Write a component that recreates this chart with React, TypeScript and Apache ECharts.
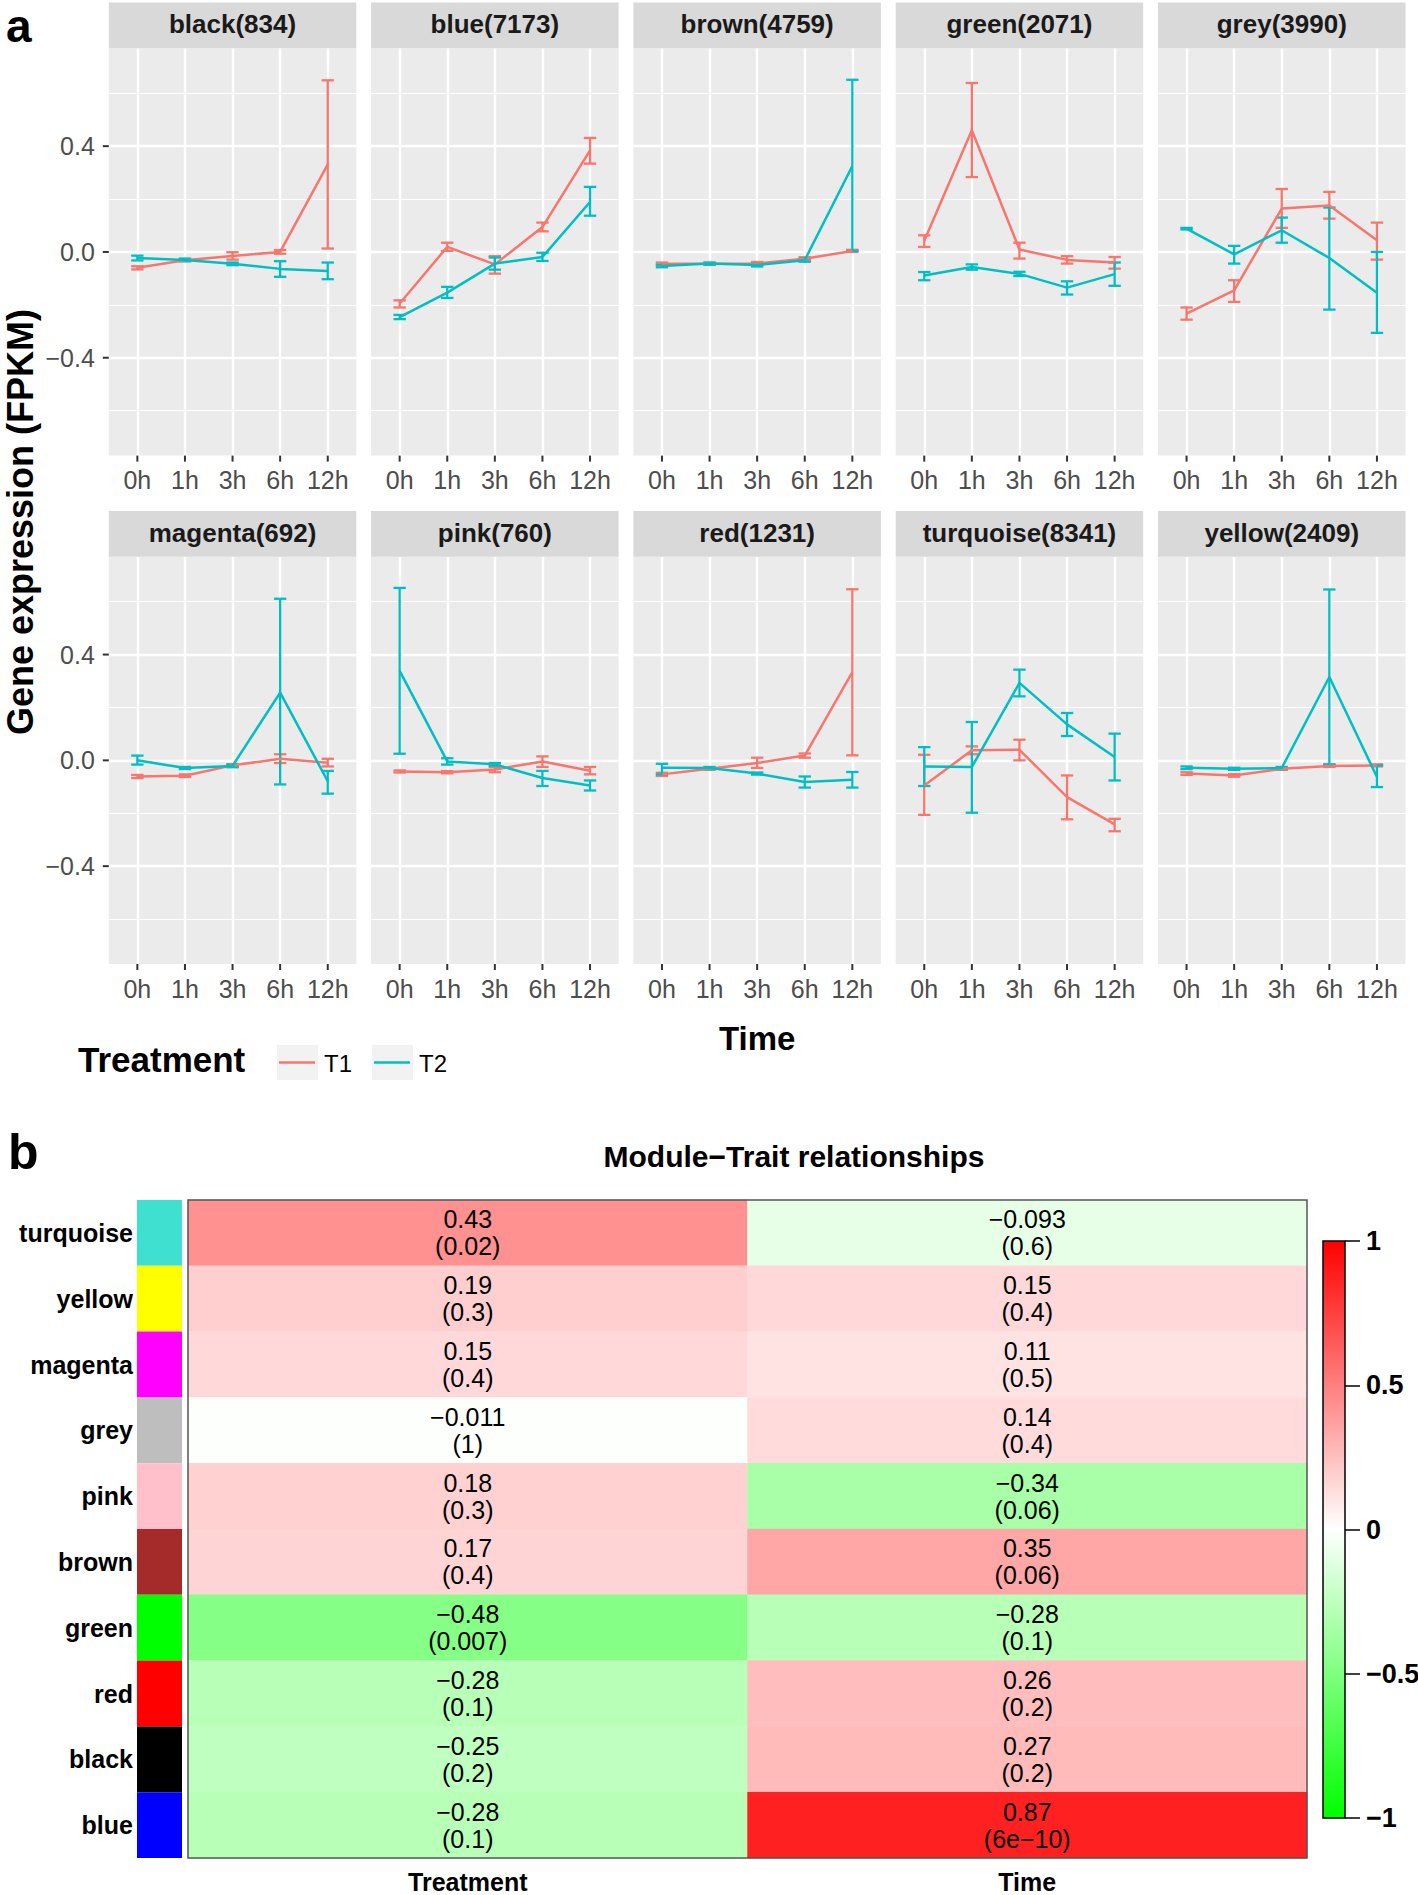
import React, { useEffect, useRef } from "react";
import * as echarts from "echarts";

// ---------------- DATA ----------------
const TIMES = ["0h", "1h", "3h", "6h", "12h"];
const MODULES = ["black", "blue", "brown", "green", "grey", "magenta", "pink", "red", "turquoise", "yellow"];
const GENE_COUNTS = [834, 7173, 4759, 2071, 3990, 692, 760, 1231, 8341, 2409];
const TREATMENTS = ["T1", "T2"];

// per module (order of MODULES), per time point
const T1_MEAN = [
  [-0.06, -0.031, -0.015, 0.0, 0.331],
  [-0.195, 0.019, -0.047, 0.094, 0.384],
  [-0.045, -0.045, -0.044, -0.026, 0.004],
  [0.042, 0.46, 0.009, -0.03, -0.04],
  [-0.233, -0.145, 0.164, 0.176, 0.044],
  [-0.061, -0.058, -0.019, 0.006, -0.009],
  [-0.042, -0.045, -0.035, -0.004, -0.039],
  [-0.053, -0.032, -0.01, 0.018, 0.334],
  [-0.095, 0.038, 0.04, -0.139, -0.242],
  [-0.05, -0.057, -0.032, -0.021, -0.019],
];
const T1_LOW = [
  [-0.066, -0.035, -0.029, -0.007, 0.013],
  [-0.21, 0.004, -0.082, 0.078, 0.334],
  [-0.05, -0.049, -0.05, -0.032, 0.0],
  [0.019, 0.283, -0.025, -0.044, -0.063],
  [-0.256, -0.189, 0.091, 0.126, -0.029],
  [-0.067, -0.063, -0.024, -0.01, -0.023],
  [-0.046, -0.049, -0.045, -0.025, -0.053],
  [-0.059, -0.036, -0.029, 0.01, 0.019],
  [-0.206, 0.023, 0.0, -0.223, -0.268],
  [-0.055, -0.062, -0.036, -0.025, -0.023],
];
const T1_HIGH = [
  [-0.054, -0.027, -0.001, 0.007, 0.649],
  [-0.183, 0.035, -0.016, 0.111, 0.431],
  [-0.04, -0.041, -0.038, -0.02, 0.008],
  [0.063, 0.639, 0.035, -0.016, -0.019],
  [-0.21, -0.107, 0.238, 0.227, 0.111],
  [-0.055, -0.053, -0.014, 0.023, 0.006],
  [-0.038, -0.041, -0.025, 0.015, -0.025],
  [-0.047, -0.028, 0.01, 0.026, 0.647],
  [0.021, 0.053, 0.078, -0.057, -0.221],
  [-0.045, -0.052, -0.028, -0.017, -0.015],
];
const T2_MEAN = [
  [-0.023, -0.03, -0.045, -0.064, -0.072],
  [-0.246, -0.154, -0.044, -0.019, 0.189],
  [-0.053, -0.044, -0.049, -0.031, 0.325],
  [-0.089, -0.057, -0.083, -0.135, -0.084],
  [0.088, -0.009, 0.082, -0.023, -0.154],
  [0.0, -0.029, -0.021, 0.256, -0.079],
  [0.338, -0.004, -0.015, -0.067, -0.095],
  [-0.028, -0.029, -0.05, -0.082, -0.073],
  [-0.023, -0.025, 0.293, 0.136, 0.013],
  [-0.028, -0.032, -0.029, 0.315, -0.063],
];
const T2_LOW = [
  [-0.032, -0.035, -0.05, -0.094, -0.103],
  [-0.254, -0.174, -0.067, -0.034, 0.137],
  [-0.058, -0.048, -0.055, -0.037, 0.004],
  [-0.107, -0.067, -0.091, -0.161, -0.128],
  [0.085, -0.044, 0.035, -0.218, -0.306],
  [-0.016, -0.033, -0.026, -0.091, -0.126],
  [0.025, -0.016, -0.02, -0.097, -0.114],
  [-0.053, -0.033, -0.054, -0.103, -0.103],
  [-0.097, -0.198, 0.242, 0.092, -0.076],
  [-0.033, -0.036, -0.033, -0.015, -0.101],
];
const T2_HIGH = [
  [-0.014, -0.025, -0.04, -0.035, -0.04],
  [-0.238, -0.132, -0.021, -0.003, 0.246],
  [-0.048, -0.04, -0.043, -0.025, 0.651],
  [-0.076, -0.047, -0.075, -0.111, -0.04],
  [0.091, 0.023, 0.13, 0.168, 0.0],
  [0.018, -0.025, -0.016, 0.611, -0.04],
  [0.652, 0.008, -0.01, -0.04, -0.076],
  [-0.013, -0.025, -0.046, -0.061, -0.044],
  [0.05, 0.145, 0.343, 0.179, 0.101],
  [-0.023, -0.028, -0.025, 0.646, -0.019],
];
const Y_TICKS = [-0.4, 0, 0.4];

// heatmap (module-trait relationships)
const HEAT_ROWS = ["turquoise", "yellow", "magenta", "grey", "pink", "brown", "green", "red", "black", "blue"];
const HEAT_ROW_COLORS = ["#40E0D0", "#FFFF00", "#FF00FF", "#BEBEBE", "#FFC0CB", "#A52A2A", "#00FF00", "#FF0000", "#000000", "#0000FF"];
const TRAITS = ["Treatment", "Time"];
const COR_TREATMENT = [0.43, 0.19, 0.15, -0.011, 0.18, 0.17, -0.48, -0.28, -0.25, -0.28];
const P_TREATMENT = [0.02, 0.3, 0.4, 1, 0.3, 0.4, 0.007, 0.1, 0.2, 0.1];
const COR_TIME = [-0.093, 0.15, 0.11, 0.14, -0.34, 0.35, -0.28, 0.26, 0.27, 0.87];
const P_TIME = [0.6, 0.4, 0.5, 0.4, 0.06, 0.06, 0.1, 0.2, 0.2, 6e-10];

// ---------------- STYLE / LAYOUT ----------------
const W = 1418;
const H = 1895;
const FONT = '"Liberation Sans", Arial, Helvetica, sans-serif';
const T1_COLOR = "#F8766D";
const T2_COLOR = "#00BFC4";
const PANEL_X0 = 108.8;
const PANEL_PITCH = 262.3;
const PANEL_W = 247.5;
const ROW_PANEL_TOP = [48.3, 556.7];
const PANEL_H = 407.3;
const STRIP_H = 45.8;
const Y_LIM = 0.77;
const Y_EXT = 0.8;
const X_MIN = -0.6;
const X_MAX = 4.6;
const CAP = 0.26;
const TICK_LEN = 6;

const HM_LEFT = 188;
const HM_TOP = 1200;
const HM_W = 1119;
const HM_H = 658;
const BAR_LEFT = 137;
const BAR_W = 45;
const CB_LEFT = 1323;
const CB_TOP = 1241;
const CB_W = 22;
const CB_H = 577;

const minus = (s: string) => s.replace("-", "\u2212");

function buildOption() {
  const grid: any[] = [];
  const xAxis: any[] = [];
  const yAxis: any[] = [];
  const series: any[] = [];
  const graphics: any[] = [];

  const pxu = PANEL_H / (2 * Y_LIM);
  const ext = (Y_EXT - Y_LIM) * pxu;

  MODULES.forEach((m, i) => {
    const r = Math.floor(i / 5);
    const c = i % 5;
    const left = PANEL_X0 + c * PANEL_PITCH;
    const top = ROW_PANEL_TOP[r];
    grid.push({
      left,
      top: top - ext,
      width: PANEL_W,
      height: 2 * Y_EXT * pxu,
      containLabel: false,
      outerBoundsMode: "none",
    });
    xAxis.push({
      type: "value",
      gridIndex: i,
      position: "bottom",
      min: X_MIN,
      max: X_MAX,
      offset: -ext,
      z: 1,
      axisLine: { show: false, onZero: false },
      axisTick: { show: false },
      axisLabel: {
        show: true,
        customValues: [0, 1, 2, 3, 4],
        formatter: (v: number) => (Number.isInteger(v) && TIMES[v] !== undefined ? TIMES[v] : ""),
        fontSize: 25,
        fontFamily: FONT,
        color: "#4D4D4D",
        margin: 12,
      },
      splitLine: { show: true, showMinLine: false, showMaxLine: false, lineStyle: { color: "#FFFFFF", width: 2.4 } },
    });
    yAxis.push({
      type: "value",
      gridIndex: i,
      position: "left",
      min: -Y_EXT,
      max: Y_EXT,
      interval: 0.4,
      z: 1,
      axisLine: { show: false, onZero: false },
      axisTick: { show: false },
      axisLabel: {
        show: c === 0,
        customValues: Y_TICKS,
        formatter: (v: number) => (Math.abs(v) > 0.5 ? "" : minus(v.toFixed(1)).replace("\u22120.0", "0.0")),
        fontSize: 25,
        fontFamily: FONT,
        color: "#4D4D4D",
        margin: 14,
      },
      splitLine: { show: true, showMinLine: false, showMaxLine: false, lineStyle: { color: "#FFFFFF", width: 2.4 } },
      minorTick: { show: false, splitNumber: 2 },
      minorSplitLine: { show: true, lineStyle: { color: "#FFFFFF", width: 1.2 } },
    });

    // panel background and strip
    graphics.push({
      type: "rect",
      silent: true,
      z: 0,
      shape: { x: left, y: top, width: PANEL_W, height: PANEL_H },
      style: { fill: "#EBEBEB" },
    });
    graphics.push({
      type: "rect",
      silent: true,
      z: 5,
      shape: { x: left, y: top - STRIP_H, width: PANEL_W, height: STRIP_H },
      style: { fill: "#D9D9D9" },
    });
    graphics.push({
      type: "text",
      silent: true,
      z: 6,
      x: left + PANEL_W / 2,
      y: top - STRIP_H / 2 - 1,
      style: {
        text: `${m}(${GENE_COUNTS[i]})`,
        fontSize: 26,
        fontWeight: "bold",
        fontFamily: FONT,
        fill: "#1A1A1A",
        align: "center",
        verticalAlign: "middle",
      },
    });

    const means = [T1_MEAN[i], T2_MEAN[i]];
    const lows = [T1_LOW[i], T2_LOW[i]];
    const highs = [T1_HIGH[i], T2_HIGH[i]];
    const colors = [T1_COLOR, T2_COLOR];
    TREATMENTS.forEach((t, k) => {
      series.push({
        type: "line",
        name: t,
        xAxisIndex: i,
        yAxisIndex: i,
        data: TIMES.map((_, j) => [j, means[k][j]]),
        showSymbol: false,
        symbol: "none",
        silent: true,
        z: 3,
        lineStyle: { color: colors[k], width: 2.5 },
        itemStyle: { color: colors[k] },
      });
    });
    TREATMENTS.forEach((t, k) => {
      const col = colors[k];
      series.push({
        type: "custom",
        name: t + " error",
        xAxisIndex: i,
        yAxisIndex: i,
        silent: true,
        z: 3,
        encode: { x: 0, y: [1, 2] },
        data: TIMES.map((_, j) => [j, lows[k][j], highs[k][j]]),
        renderItem: (params: any, api: any) => {
          const x = api.value(0);
          const lo = api.coord([x, api.value(1)]);
          const hi = api.coord([x, api.value(2)]);
          const half = api.size([CAP, 0])[0] / 2;
          const st = { stroke: col, lineWidth: 2.3 };
          return {
            type: "group",
            children: [
              { type: "line", shape: { x1: lo[0], y1: lo[1], x2: hi[0], y2: hi[1] }, style: st },
              { type: "line", shape: { x1: lo[0] - half, y1: lo[1], x2: lo[0] + half, y2: lo[1] }, style: st },
              { type: "line", shape: { x1: hi[0] - half, y1: hi[1], x2: hi[0] + half, y2: hi[1] }, style: st },
            ],
          };
        },
      });
    });
  });

  // ---- heatmap grid (index 10) ----
  const hmIdx = MODULES.length;
  grid.push({ left: HM_LEFT, top: HM_TOP, width: HM_W, height: HM_H, containLabel: false, outerBoundsMode: "none" });
  xAxis.push({
    type: "category",
    gridIndex: hmIdx,
    data: TRAITS,
    axisLine: { show: false },
    axisTick: { show: false },
    splitLine: { show: false },
    axisLabel: { fontSize: 25, fontWeight: "bold", fontFamily: FONT, color: "#000", margin: 11 },
  });
  yAxis.push({
    type: "category",
    gridIndex: hmIdx,
    data: HEAT_ROWS,
    inverse: true,
    axisLine: { show: false },
    axisTick: { show: false },
    axisLabel: { show: false },
    splitLine: { show: false },
  });
  const heatData: number[][] = [];
  HEAT_ROWS.forEach((_, r) => {
    heatData.push([0, r, COR_TREATMENT[r]]);
    heatData.push([1, r, COR_TIME[r]]);
  });
  const heatSeriesIndex = series.length;
  series.push({
    type: "heatmap",
    xAxisIndex: hmIdx,
    yAxisIndex: hmIdx,
    data: heatData,
    silent: true,
    label: {
      show: true,
      fontSize: 25,
      lineHeight: 27,
      fontFamily: FONT,
      color: "#000",
      formatter: (p: any) => {
        const [c, r] = p.data;
        const cor = c === 0 ? COR_TREATMENT[r] : COR_TIME[r];
        const pv = c === 0 ? P_TREATMENT[r] : P_TIME[r];
        return minus(String(cor)) + "\n(" + minus(String(pv)) + ")";
      },
    },
    itemStyle: { borderWidth: 0 },
  });

  // ---- module colour bars (index 11) ----
  const barIdx = hmIdx + 1;
  grid.push({ left: BAR_LEFT, top: HM_TOP, width: BAR_W, height: HM_H, containLabel: false, outerBoundsMode: "none" });
  xAxis.push({ type: "value", gridIndex: barIdx, min: 0, max: 1, show: false });
  yAxis.push({
    type: "category",
    gridIndex: barIdx,
    data: HEAT_ROWS,
    inverse: true,
    axisLine: { show: false },
    axisTick: { show: false },
    splitLine: { show: false },
    axisLabel: { fontSize: 25, fontWeight: "bold", fontFamily: FONT, color: "#000", margin: 4, interval: 0 },
  });
  series.push({
    type: "bar",
    xAxisIndex: barIdx,
    yAxisIndex: barIdx,
    barWidth: "100%",
    barCategoryGap: 0,
    silent: true,
    data: HEAT_ROW_COLORS.map((c) => ({ value: 1, itemStyle: { color: c } })),
  });

  // ---- colour scale legend (index 12) ----
  const cbIdx = barIdx + 1;
  grid.push({ left: CB_LEFT, top: CB_TOP, width: CB_W, height: CB_H, containLabel: false, outerBoundsMode: "none" });
  xAxis.push({ type: "value", gridIndex: cbIdx, min: 0, max: 1, show: false });
  yAxis.push({
    type: "value",
    gridIndex: cbIdx,
    min: -1,
    max: 1,
    interval: 0.5,
    position: "right",
    z: 7,
    axisLine: { show: false, onZero: false },
    axisTick: { show: true, length: 15, lineStyle: { color: "#000", width: 1.5 } },
    splitLine: { show: false },
    axisLabel: {
      fontSize: 27,
      fontWeight: "bold",
      fontFamily: FONT,
      color: "#000",
      margin: 21,
      formatter: (v: number) => minus(String(v)),
    },
  });
  graphics.push({
    type: "rect",
    silent: true,
    z: 6,
    shape: { x: CB_LEFT, y: CB_TOP, width: CB_W, height: CB_H },
    style: {
      fill: new echarts.graphic.LinearGradient(0, 0, 0, 1, [
        { offset: 0, color: "#FF0000" },
        { offset: 0.5, color: "#FFFFFF" },
        { offset: 1, color: "#00FF00" },
      ]),
      stroke: "#000",
      lineWidth: 1.5,
    },
  });
  graphics.push({
    type: "rect",
    silent: true,
    z: 10,
    shape: { x: HM_LEFT, y: HM_TOP, width: HM_W, height: HM_H },
    style: { fill: "none", stroke: "#555", lineWidth: 1.5 },
  });

  // ---- texts ----
  const txt = (text: string, x: number, y: number, size: number, bold: boolean, extra: any = {}, lh?: number) => ({
    type: "text",
    silent: true,
    z: 8,
    x,
    y,
    ...extra,
    style: {
      text,
      fontSize: size,
      fontWeight: bold ? "bold" : "normal",
      fontFamily: FONT,
      fill: "#000",
      align: extra.align || "center",
      verticalAlign: "middle",
      ...(lh ? { lineHeight: lh } : {}),
    },
  });
  graphics.push(txt("a", 6, 26, 46, true, { align: "left" }));
  graphics.push(txt("b", 8, 1152, 50, true, { align: "left" }));
  graphics.push(txt("Gene expression (FPKM)", 20, 522, 36, true, { rotation: Math.PI / 2 }, 30));
  graphics.push(txt("Time", PANEL_X0 + (4 * PANEL_PITCH + PANEL_W) / 2, 1038, 33, true));
  graphics.push(txt("Treatment", 78, 1059, 35, true, { align: "left" }));
  graphics.push(txt("Module\u2212Trait relationships", 794, 1156, 30, true));

  // legend keys
  const keyColors = [T1_COLOR, T2_COLOR];
  TREATMENTS.forEach((t, k) => {
    const kx = 277 + k * 95;
    graphics.push({
      type: "rect",
      silent: true,
      z: 6,
      shape: { x: kx, y: 1045, width: 41, height: 35 },
      style: { fill: "#F2F2F2" },
    });
    graphics.push({
      type: "line",
      silent: true,
      z: 7,
      shape: { x1: kx + 2, y1: 1062.5, x2: kx + 38, y2: 1062.5 },
      style: { stroke: keyColors[k], lineWidth: 2.6 },
    });
    graphics.push({
      type: "text",
      silent: true,
      z: 7,
      x: kx + 47,
      y: 1063,
      style: {
        text: t,
        fontSize: 24,
        fontFamily: FONT,
        fill: "#000",
        align: "left",
        verticalAlign: "middle",
      },
    });
  });

  return {
    option: {
      animation: false,
      backgroundColor: "#FFFFFF",
      textStyle: { fontFamily: FONT },
      grid,
      xAxis,
      yAxis,
      series,
      visualMap: [
        {
          type: "continuous",
          show: false,
          min: -1,
          max: 1,
          dimension: 2,
          seriesIndex: heatSeriesIndex,
          inRange: { color: ["#00FF00", "#FFFFFF", "#FF0000"] },
        },
      ],
      graphic: { elements: graphics },
    },
    graphics,
  };
}

export default function App() {
  const ref = useRef<HTMLDivElement | null>(null);
  useEffect(() => {
    document.body.style.margin = "0";
    if (!ref.current) return;
    const chart = echarts.init(ref.current, undefined, { renderer: "svg", width: W, height: H });
    const { option, graphics } = buildOption();
    chart.setOption(option as any);

    // axis tick marks of the facet panels, placed through the panels' own scales
    const ticks: any[] = [];
    MODULES.forEach((_, i) => {
      const c = i % 5;
      TIMES.forEach((__, j) => {
        const p = chart.convertToPixel({ gridIndex: i } as any, [j, -Y_LIM]) as number[];
        ticks.push({
          type: "line",
          silent: true,
          z: 8,
          shape: { x1: p[0], y1: p[1], x2: p[0], y2: p[1] + TICK_LEN },
          style: { stroke: "#333333", lineWidth: 2 },
        });
      });
      if (c === 0) {
        Y_TICKS.forEach((v) => {
          const p = chart.convertToPixel({ gridIndex: i } as any, [X_MIN, v]) as number[];
          ticks.push({
            type: "line",
            silent: true,
            z: 8,
            shape: { x1: p[0] - TICK_LEN, y1: p[1], x2: p[0], y2: p[1] },
            style: { stroke: "#333333", lineWidth: 2 },
          });
        });
      }
    });
    chart.setOption({ graphic: { elements: [...graphics, ...ticks] } } as any);
    return () => {
      chart.dispose();
    };
  }, []);
  return (
    <div
      ref={ref}
      style={{ position: "absolute", left: 0, top: 0, width: W, height: H, background: "#fff" }}
    />
  );
}
